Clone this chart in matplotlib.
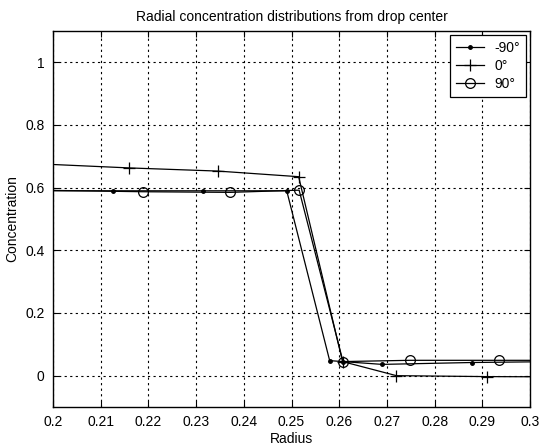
import matplotlib
matplotlib.use("Agg")
import matplotlib.pyplot as plt

plt.rcParams['font.family'] = ['Liberation Sans', 'DejaVu Sans']

# Data
r_m90 = [0.194, 0.2125, 0.2315, 0.249, 0.258, 0.2607, 0.269, 0.2878, 0.306]
c_m90 = [0.590, 0.590, 0.590, 0.590, 0.048, 0.045, 0.036, 0.042, 0.045]

r_0 = [0.197, 0.216, 0.2345, 0.2515, 0.2607, 0.272, 0.291, 0.310]
c_0 = [0.676, 0.663, 0.653, 0.635, 0.045, 0.000, -0.003, -0.004]

r_90 = [0.197, 0.2188, 0.2372, 0.2516, 0.2608, 0.2748, 0.2935, 0.312]
c_90 = [0.592, 0.587, 0.585, 0.592, 0.045, 0.049, 0.049, 0.049]

labels = ['-90°', '0°', '90°']
xticks = [0.2, 0.21, 0.22, 0.23, 0.24, 0.25, 0.26, 0.27, 0.28, 0.29, 0.3]
xticklabels = ['0.2', '0.21', '0.22', '0.23', '0.24', '0.25', '0.26', '0.27', '0.28', '0.29', '0.3']
yticks = [0, 0.2, 0.4, 0.6, 0.8, 1.0]
yticklabels = ['0', '0.2', '0.4', '0.6', '0.8', '1']

fig = plt.figure(figsize=(5.4, 4.47), dpi=100)
ax = fig.add_axes([53/540, 40/447, 477/540, 376/447])

ax.plot(r_m90, c_m90, color='black', lw=0.9, marker='.', ms=5, label=labels[0])
ax.plot(r_0, c_0, color='black', lw=0.9, marker='+', ms=9, mew=0.9, label=labels[1])
ax.plot(r_90, c_90, color='black', lw=0.9, marker='o', ms=7, mfc='none', mew=0.9, label=labels[2])

ax.set_xlim(0.2, 0.3)
ax.set_ylim(-0.1, 1.1)
ax.set_xticks(xticks)
ax.set_xticklabels(xticklabels)
ax.set_yticks(yticks)
ax.set_yticklabels(yticklabels)
ax.tick_params(direction='in', top=True, right=True, labelsize=10, length=4, width=0.8, pad=6)
ax.grid(True, color='black', linestyle=(0, (2, 3)), linewidth=0.8)
for s in ax.spines.values():
    s.set_linewidth(1.0)
    s.set_color('black')

ax.set_title('Radial concentration distributions from drop center', fontsize=10, pad=7)
ax.set_xlabel('Radius', fontsize=10, labelpad=2)
ax.set_ylabel('Concentration', fontsize=10, labelpad=4)

leg = ax.legend(loc='upper right', fontsize=10, frameon=True, fancybox=False,
                edgecolor='black', framealpha=1, handlelength=2.0,
                borderaxespad=0.3, labelspacing=0.3)
leg.get_frame().set_linewidth(0.9)

fig.savefig('out.png', dpi=100)
